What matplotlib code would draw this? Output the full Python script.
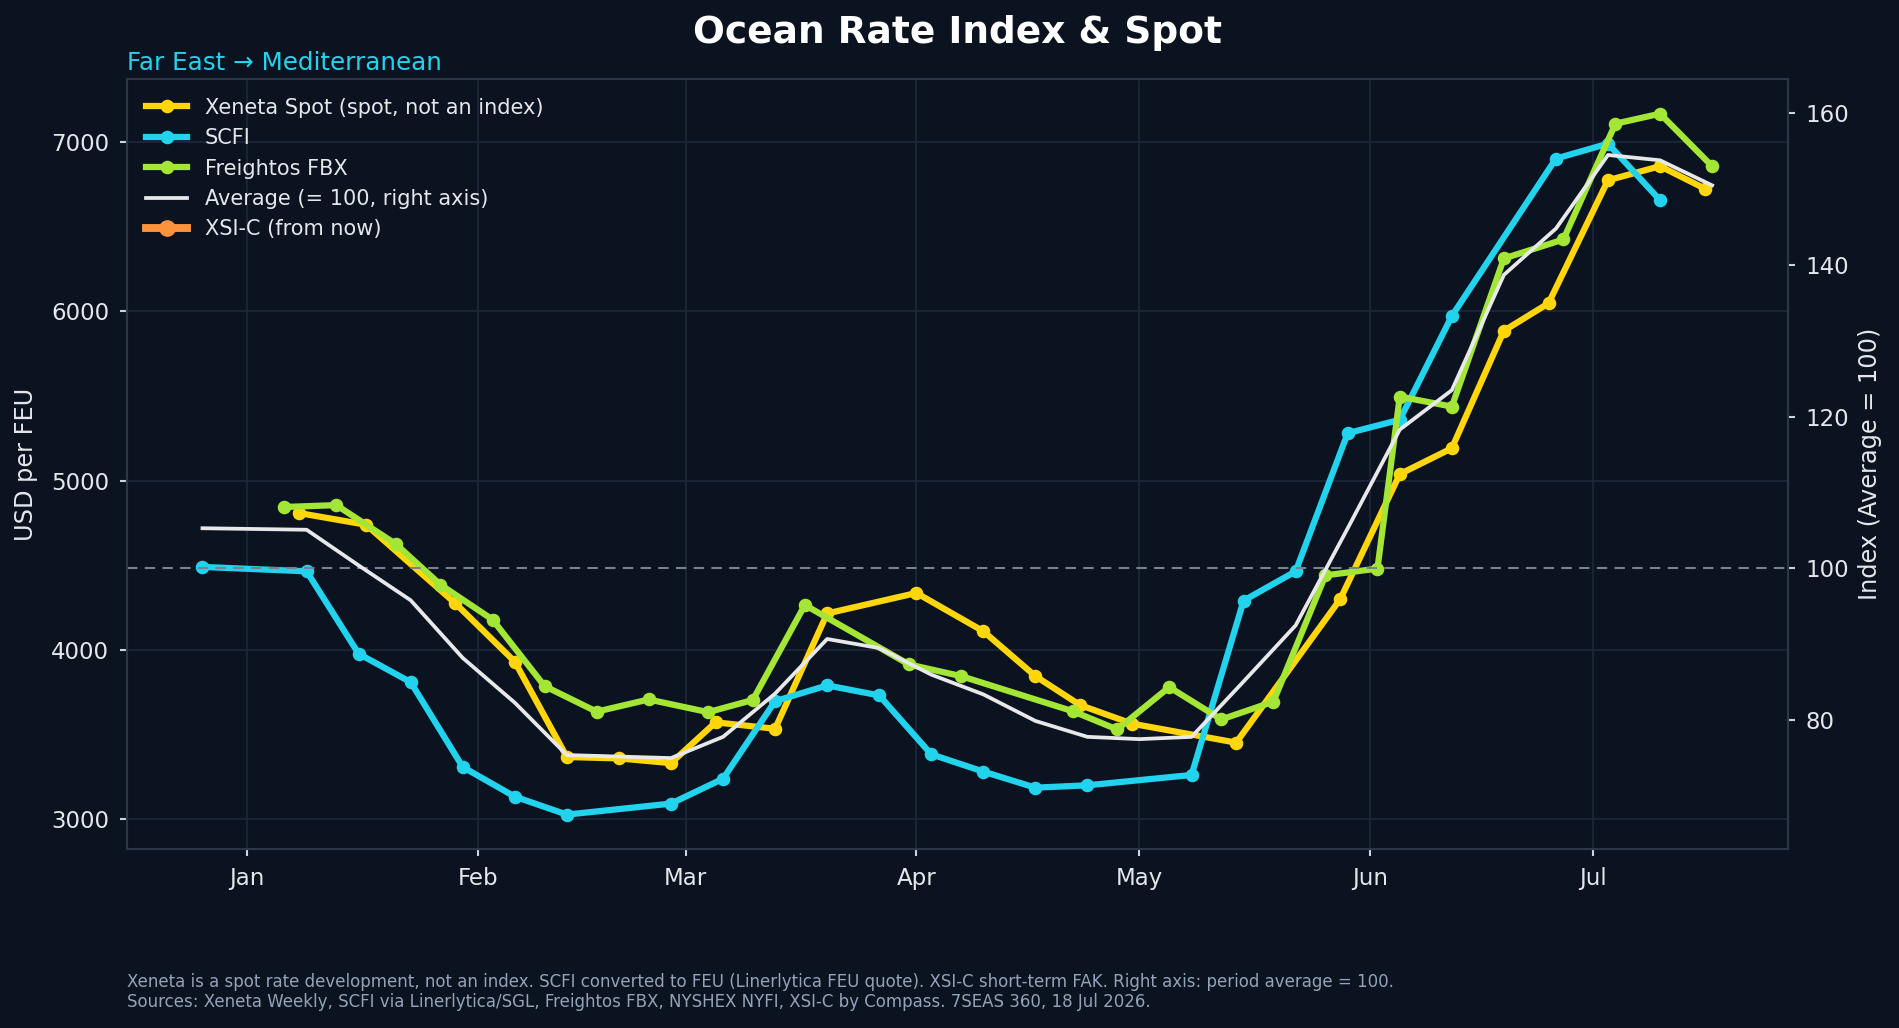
import matplotlib
matplotlib.use("Agg")
import matplotlib.pyplot as plt
import matplotlib.dates as mdates
import pandas as pd

# ---------------- data ----------------
xeneta_dates = ["2026-01-08", "2026-01-17", "2026-01-29", "2026-02-06", "2026-02-13",
                "2026-02-20", "2026-02-27", "2026-03-05", "2026-03-13", "2026-03-20",
                "2026-04-01", "2026-04-10", "2026-04-17", "2026-04-23", "2026-04-30",
                "2026-05-14", "2026-05-28", "2026-06-05", "2026-06-12", "2026-06-19",
                "2026-06-25", "2026-07-03", "2026-07-10", "2026-07-16"]
xeneta_usd = [4808, 4739, 4275, 3930, 3367, 3359, 3331, 3572, 3534, 4215,
              4336, 4110, 3845, 3674, 3564, 3452, 4300, 5038, 5191, 5885,
              6047, 6774, 6857, 6725]

scfi_dates = ["2025-12-26", "2026-01-09", "2026-01-16", "2026-01-23", "2026-01-30",
              "2026-02-06", "2026-02-13", "2026-02-27", "2026-03-06", "2026-03-13",
              "2026-03-20", "2026-03-27", "2026-04-03", "2026-04-10", "2026-04-17",
              "2026-04-24", "2026-05-08", "2026-05-15", "2026-05-22", "2026-05-29",
              "2026-06-05", "2026-06-12", "2026-06-26", "2026-07-03", "2026-07-10"]
scfi_usd = [4490, 4464, 3977, 3809, 3308, 3133, 3027, 3092, 3239, 3697,
            3790, 3731, 3383, 3281, 3186, 3200, 3261, 4291, 4464, 5280,
            5359, 5972, 6902, 6990, 6656]

fbx_dates = ["2026-01-06", "2026-01-13", "2026-01-21", "2026-01-27", "2026-02-03",
             "2026-02-10", "2026-02-17", "2026-02-24", "2026-03-04", "2026-03-10",
             "2026-03-17", "2026-03-31", "2026-04-07", "2026-04-22", "2026-04-28",
             "2026-05-05", "2026-05-12", "2026-05-19", "2026-05-26", "2026-06-02",
             "2026-06-05", "2026-06-12", "2026-06-19", "2026-06-27", "2026-07-04",
             "2026-07-10", "2026-07-17"]
fbx_usd = [4844, 4855, 4625, 4385, 4179, 3786, 3635, 3707, 3632, 3704,
           4265, 3914, 3845, 3638, 3530, 3780, 3589, 3694, 4440, 4480,
           5496, 5437, 6312, 6424, 7108, 7167, 6857]

avg_dates = ["2025-12-26", "2026-01-02", "2026-01-09", "2026-01-16", "2026-01-23",
             "2026-01-30", "2026-02-06", "2026-02-13", "2026-02-20", "2026-02-27",
             "2026-03-06", "2026-03-13", "2026-03-20", "2026-03-27", "2026-04-03",
             "2026-04-10", "2026-04-17", "2026-04-24", "2026-05-01", "2026-05-08",
             "2026-05-15", "2026-05-22", "2026-05-29", "2026-06-05", "2026-06-12",
             "2026-06-19", "2026-06-26", "2026-07-03", "2026-07-10", "2026-07-17"]
avg_index = [105.3, 105.2, 105.1, 100.4, 95.8, 88.2, 82.3, 75.4, 75.2, 75.0,
             77.8, 83.5, 90.7, 89.5, 86.0, 83.4, 79.9, 77.8, 77.5, 77.8,
             85.1, 92.5, 105.3, 118.3, 123.5, 138.7, 144.8, 154.5, 153.8, 150.5]

xsic_dates = []
xsic_usd = []

usd_per_index_point = 44.81  # USD level that corresponds to index 100 / 100
usd_limits = (2822, 7372)
x_limits = ("2025-12-15 20:24", "2026-07-27 03:36")

# ---------------- style ----------------
BG = "#0b1220"
GRID = "#1c2638"
SPINE = "#2b3648"
TXT = "#e5e7eb"
YELLOW = "#ffd60a"
CYAN = "#22d3ee"
GREEN = "#a3e635"
WHITE = "#e8e8ea"
ORANGE = "#fb923c"

plt.rcParams['font.family'] = ['DejaVu Sans']

W, H = 1899, 1028
fig = plt.figure(figsize=(W / 150, H / 150), dpi=150, facecolor=BG)
L, R, T, B = 127, 1787.6, 79, 849.3
ax = fig.add_axes([L / W, 1 - B / H, (R - L) / W, (B - T) / H])
ax.set_facecolor(BG)
ax2 = ax.twinx()

lw, ms = 3.0, 5.5
ax.plot(pd.to_datetime(xeneta_dates), xeneta_usd, color=YELLOW, lw=lw, marker='o', ms=ms,
        label="Xeneta Spot (spot, not an index)", zorder=3)
ax.plot(pd.to_datetime(scfi_dates), scfi_usd, color=CYAN, lw=lw, marker='o', ms=ms,
        label="SCFI", zorder=4)
ax.plot(pd.to_datetime(fbx_dates), fbx_usd, color=GREEN, lw=lw, marker='o', ms=ms,
        label="Freightos FBX", zorder=5)
ax2.plot(pd.to_datetime(avg_dates), avg_index, color=WHITE, lw=1.8,
         label="Average (= 100, right axis)", zorder=6)
ax2.plot(pd.to_datetime(xsic_dates), xsic_usd, color=ORANGE, lw=3.8, marker='o', ms=7,
         label="XSI-C (from now)")
ax2.axhline(100, color="#7a8290", lw=1.0, dashes=(5, 3.5), zorder=1)

ax.set_ylim(*usd_limits)
ax2.set_ylim(usd_limits[0] / usd_per_index_point, usd_limits[1] / usd_per_index_point)
ax.set_xlim(pd.Timestamp(x_limits[0]), pd.Timestamp(x_limits[1]))

ax.xaxis.set_major_locator(mdates.MonthLocator())
ax.xaxis.set_major_formatter(mdates.DateFormatter('%b'))
ax.set_yticks([3000, 4000, 5000, 6000, 7000])
ax2.set_yticks([80, 100, 120, 140, 160])

ax.grid(True, color=GRID, lw=0.9)
ax.set_axisbelow(True)

for a in (ax, ax2):
    a.tick_params(colors=TXT, labelsize=11, length=3.5, width=1.0, pad=5)
    a.tick_params(axis='both', color="#cbd5e1")
    for s in a.spines.values():
        s.set_color(SPINE)
        s.set_linewidth(1.0)

ax.set_ylabel("USD per FEU", color=TXT, fontsize=11.5, labelpad=6.3)
ax2.set_ylabel("Index (Average = 100)", color=TXT, fontsize=11.5, labelpad=4.5)

h1, l1 = ax.get_legend_handles_labels()
h2, l2 = ax2.get_legend_handles_labels()
leg = ax2.legend(h1 + h2, l1 + l2, loc='upper left', frameon=False, fontsize=10,
                 labelcolor=TXT, handlelength=2.0, handletextpad=0.85, labelspacing=0.5)

fig.text((L + R) / 2 / W, 1 - 43.3 / H, "Ocean Rate Index & Spot", ha='center',
         va='baseline', fontsize=18, fontweight='bold', color='white')
fig.text(L / W, 1 - 70 / H, "Far East \u2192 Mediterranean", ha='left', va='baseline',
         fontsize=11.8, color=CYAN)
fig.text(L / W, 1 - 987.3 / H,
         "Xeneta is a spot rate development, not an index. SCFI converted to FEU "
         "(Linerlytica FEU quote). XSI-C short-term FAK. Right axis: period average = 100.",
         ha='left', va='baseline', fontsize=8.0, color="#94a3b8")
fig.text(L / W, 1 - 1007.3 / H,
         "Sources: Xeneta Weekly, SCFI via Linerlytica/SGL, Freightos FBX, NYSHEX NYFI, "
         "XSI-C by Compass. 7SEAS 360, 18 Jul 2026.",
         ha='left', va='baseline', fontsize=8.0, color="#94a3b8")

fig.savefig("out.png", dpi=150, facecolor=BG)
